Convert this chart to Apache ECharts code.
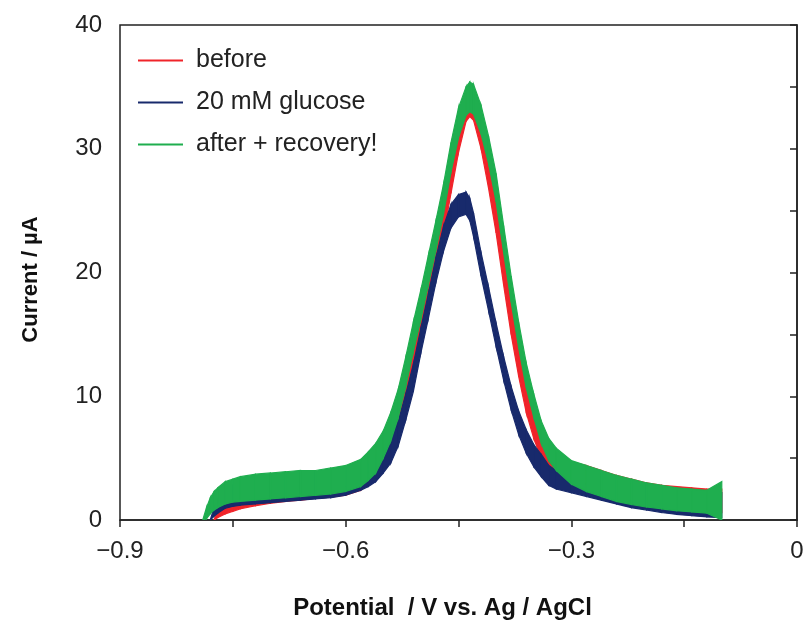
<!DOCTYPE html>
<html>
<head>
<meta charset="utf-8">
<script src="https://cdn.jsdelivr.net/npm/echarts@6/dist/echarts.min.js"></script>
<style>
html,body{margin:0;padding:0;background:#fff;}
#main{width:809px;height:625px;}
</style>
</head>
<body>
<div id="main"></div>
<script>
// potential grid (V), shared by all curves
var xs=[-0.795,-0.79,-0.785,-0.78,-0.775,-0.77,-0.76,-0.75,-0.74,-0.72,-0.70,-0.68,-0.66,-0.64,-0.62,-0.60,
	-0.58,-0.57,-0.56,-0.55,-0.54,-0.53,-0.52,-0.51,-0.50,-0.49,-0.48,-0.47,-0.46,-0.45,-0.44,-0.435,-0.43,
	-0.42,-0.41,-0.40,-0.39,-0.38,-0.37,-0.36,-0.35,-0.34,-0.33,-0.32,-0.30,-0.28,-0.26,-0.24,-0.22,-0.20,
	-0.18,-0.16,-0.14,-0.12,-0.10];
// each curve is noisy, kept as upper / lower edge of the noise band (µA)
var beforeHi=[null,null,null,null,0,0.9,2.0,2.6,3.0,3.3,3.5,3.6,3.7,3.8,4.0,4.2,
	4.6,5.1,5.7,6.6,7.9,9.6,11.9,14.6,17.3,20.1,23.0,26.0,29.3,32.4,34.6,35.0,34.8,
	32.6,29.4,26.0,21.8,17.7,14.2,11.2,9.0,7.1,6.1,5.4,4.7,4.4,4.0,3.6,3.3,3.0,
	2.8,2.7,2.6,2.5,2.5];
var beforeLo=[null,null,null,null,0,0.2,0.5,0.7,0.9,1.15,1.35,1.5,1.6,1.75,1.85,2.0,
	2.4,2.9,3.4,4.2,5.0,6.4,8.6,11.3,14.0,16.9,19.9,23.0,26.4,29.7,32.2,32.6,32.3,
	30.0,26.8,23.2,19.0,15.0,11.6,8.7,6.6,5.0,4.1,3.5,2.8,2.3,1.95,1.6,1.35,1.15,
	1.0,0.85,0.75,0.65,0.6];
var glucoseHi=[null,null,null,0,1.0,1.7,2.4,2.8,3.0,3.2,3.3,3.4,3.5,3.6,3.8,4.0,
	4.3,4.5,5.0,5.8,6.6,8.0,10.2,12.6,15.5,18.3,21.2,23.7,25.5,26.3,26.5,26.0,24.8,
	21.6,18.8,15.9,13.2,10.8,8.8,7.3,6.1,5.3,4.4,4.0,3.6,3.3,3.0,2.8,2.6,2.4,
	2.3,2.2,2.1,2.0,2.2];
var glucoseLo=[null,null,null,0,0.3,0.55,0.95,1.1,1.2,1.3,1.4,1.5,1.6,1.7,1.8,2.0,
	2.4,2.7,3.1,3.8,4.6,6.0,8.1,10.4,13.5,16.3,19.2,21.7,23.6,24.5,24.7,24.2,22.9,
	19.7,16.9,14.0,11.3,8.9,6.9,5.4,4.3,3.5,2.8,2.5,2.2,1.9,1.6,1.3,1.0,0.8,
	0.6,0.45,0.35,0.25,0.2];
var recoveryHi=[null,0,1.0,1.8,2.3,2.6,3.1,3.3,3.5,3.7,3.8,3.9,4.0,4.0,4.2,4.4,
	4.9,5.5,6.2,7.2,8.7,10.6,13.2,16.0,18.6,21.4,24.2,27.1,30.5,33.3,35.0,35.4,35.2,
	33.5,31.0,28.0,23.8,19.7,16.0,12.7,10.2,8.0,6.6,5.8,4.8,4.4,4.0,3.6,3.3,3.0,
	2.8,2.6,2.5,2.4,3.1];
var recoveryLo=[null,0,0.1,0.5,0.8,1.0,1.3,1.45,1.5,1.6,1.7,1.8,1.9,2.0,2.1,2.3,
	2.7,3.2,3.8,5.0,6.4,8.3,10.8,13.6,16.2,19.0,21.8,24.7,28.1,30.9,32.7,33.0,32.8,
	31.2,28.8,25.7,21.6,17.6,13.9,10.7,8.3,6.2,4.8,4.0,2.9,2.3,1.9,1.5,1.25,1.05,
	0.9,0.75,0.65,0.55,0];
var names=['before','20 mM glucose','after + recovery!'];
var colors=['#f0242a','#182a6c','#1fae4f'];

// one custom series per curve: filled band between lo and hi, segment by segment
function band(name,color,lo,hi){
	var data=xs.map(function(x,i){return [x,lo[i]==null?'-':lo[i],hi[i]==null?'-':hi[i]];});
	return {
		name:name,type:'custom',clip:true,silent:true,
		itemStyle:{color:color},
		encode:{x:0,y:[1,2]},
		data:data,
		renderItem:function(params,api){
			var i=params.dataIndex;
			if(i>=xs.length-1||lo[i]==null||lo[i+1]==null) return null;
			var pts=[
				api.coord([xs[i],hi[i]]),
				api.coord([xs[i+1],hi[i+1]]),
				api.coord([xs[i+1],lo[i+1]]),
				api.coord([xs[i],lo[i]])
			];
			return {type:'polygon',shape:{points:pts},
				style:{fill:color,stroke:color,lineWidth:1.2}};
		}
	};
}

var myChart=echarts.init(document.getElementById('main'));
option={
	animation:false,
	backgroundColor:'#fff',
	grid:{left:120,right:12,top:25,bottom:104,show:true,borderColor:'#222',borderWidth:1.5},
	legend:{
		data:names,orient:'vertical',left:133,top:43,
		icon:'rect',itemWidth:45,itemHeight:2,itemGap:17,
		textStyle:{fontFamily:'Liberation Sans',fontSize:25,color:'#222',lineHeight:25,padding:[0,0,0,8]}
	},
	xAxis:{
		type:'value',min:-0.9,max:0,interval:0.3,
		name:'Potential  / V vs. Ag / AgCl',nameLocation:'middle',nameGap:76,
		nameTextStyle:{fontFamily:'Liberation Sans',fontWeight:'bold',fontSize:24,color:'#111',padding:[0,32,0,0]},
		axisLine:{onZero:false,lineStyle:{color:'#222',width:1.5}},
		axisTick:{inside:false,length:7,lineStyle:{color:'#222',width:1.5}},
		minorTick:{show:true,splitNumber:2,length:7,lineStyle:{color:'#222',width:1.5}},
		splitLine:{show:false},
		axisLabel:{fontFamily:'Liberation Sans',fontSize:24,color:'#222',margin:19,
			formatter:function(v){return String(+v.toFixed(1)).replace('-','\u2212');}}
	},
	yAxis:{
		type:'value',min:0,max:40,interval:10,
		name:'Current / µA',nameLocation:'middle',nameGap:78,
		nameTextStyle:{fontFamily:'Liberation Sans',fontWeight:'bold',fontSize:22,color:'#111',padding:[0,14,0,0]},
		axisLine:{lineStyle:{color:'#222',width:1.5}},
		axisTick:{inside:false,length:7,lineStyle:{color:'#222',width:1.5}},
		minorTick:{show:true,splitNumber:2,length:7,lineStyle:{color:'#222',width:1.5}},
		splitLine:{show:false},
		axisLabel:{fontFamily:'Liberation Sans',fontSize:24,color:'#222',margin:18}
	},
	series:[
		band(names[0],colors[0],beforeLo,beforeHi),
		band(names[1],colors[1],glucoseLo,glucoseHi),
		band(names[2],colors[2],recoveryLo,recoveryHi)
	]
};
myChart.setOption(option);
</script>
</body>
</html>
